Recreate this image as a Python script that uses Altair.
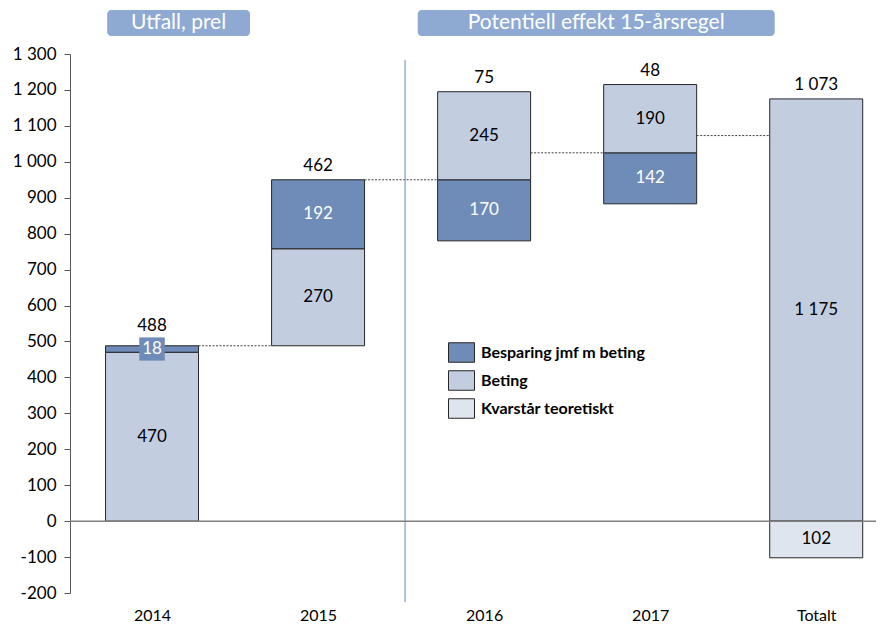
import altair as alt
import pandas as pd

# ---------------- data ----------------
categories = ["2014", "2015", "2016", "2017", "Totalt"]
series_names = ["Besparing jmf m beting", "Beting", "Kvarstår teoretiskt"]
series_colors = ["#6f8cb8", "#c3cde0", "#dfe5ef"]

seg_category = ["2014", "2014", "2015", "2015", "2016", "2016", "2017", "2017", "Totalt", "Totalt"]
seg_series = ["Beting", "Besparing jmf m beting", "Beting", "Besparing jmf m beting",
              "Besparing jmf m beting", "Beting", "Besparing jmf m beting", "Beting",
              "Beting", "Kvarstår teoretiskt"]
seg_start = [0, 470, 488, 758, 780, 950, 883, 1025, 0, -102]
seg_end = [470, 488, 758, 950, 950, 1195, 1025, 1215, 1175, 0]
seg_value = [470, 18, 270, 192, 170, 245, 142, 190, 1175, 102]

net_value = [488, 462, 75, 48, 1073]

connector_from = ["2014", "2015", "2016", "2017"]
connector_level = [488, 950, 1025, 1073]

header_text = ["Utfall, prel", "Potentiell effekt 15-årsregel"]

# ---------------- layout ----------------
W, H = 806, 539
YMIN, YMAX = -200, 1300
PX = H / (YMAX - YMIN)
HALF = 0.28
header_from = [-0.27, 1.60]
header_to = [0.59, 3.75]
divider_at = 1.524
FONT = "Lato"
FS = 17

seg = pd.DataFrame({"cat": seg_category, "series": seg_series,
                    "start": seg_start, "end": seg_end, "v": seg_value})
seg["i"] = [categories.index(c) for c in seg["cat"]]

tops = seg.groupby("i")["end"].max().reindex(range(len(categories))).tolist()
net = pd.DataFrame({"i": list(range(len(categories))), "v": net_value, "top": tops})

conn = pd.DataFrame({"i": [categories.index(c) for c in connector_from], "level": connector_level})

hdr = pd.DataFrame({"t": header_text, "a": header_from, "b": header_to})
hdr["y0"] = YMAX + 18 / PX
hdr["y1"] = YMAX + 44 / PX
hdr["ym"] = (hdr["y0"] + hdr["y1"]) / 2
hdr["xm"] = (hdr["a"] + hdr["b"]) / 2

FMT = "(datum.v < 0 ? '-' : '') + replace(format(abs(datum.v), ','), ',', ' ')"
YFMT = "(datum.value < 0 ? '-' : '') + replace(format(abs(datum.value), ','), ',', ' ')"
label_expr = "[" + ",".join(f"'{c}'" for c in categories) + "][datum.value]"

xscale = alt.Scale(domain=[-0.494, 4.36], nice=False, zero=False)
yscale = alt.Scale(domain=[YMIN, YMAX], nice=False, zero=False)

xaxis = alt.Axis(values=list(range(len(categories))), labelExpr=label_expr, domain=False,
                 ticks=False, grid=False, title=None, labelPadding=14, labelFontSize=FS - 1,
                 labelColor="black", labelFont=FONT, labelOverlap=False)
yaxis = alt.Axis(values=list(range(YMIN, YMAX + 1, 100)), labelExpr=YFMT, grid=False, title=None,
                 tickSize=6, labelPadding=8, domainColor="#595959", tickColor="#595959",
                 labelFontSize=FS, labelColor="black", labelFont=FONT, labelOverlap=False,
                 tickCount=16)


def X(field):
    return alt.X(field, scale=xscale, axis=xaxis)


def Y(field):
    return alt.Y(field, scale=yscale, axis=yaxis)


base = alt.Chart(seg).transform_calculate(
    x0=f"datum.i - {HALF}", x1=f"datum.i + {HALF}",
    mid="(datum.start + datum.end) / 2", lab=FMT)

bars = base.mark_rect(stroke="#262626", strokeWidth=1).encode(
    x=X("x0:Q"),
    x2="x1:Q",
    y=Y("start:Q"),
    y2="end:Q",
    color=alt.Color("series:N", scale=alt.Scale(domain=series_names, range=series_colors),
                    legend=alt.Legend(title=None, orient="none", legendX=378, legendY=285,
                                      symbolType="M-1,-0.75H1V0.75H-1Z", symbolSize=676,
                                      symbolStrokeColor="#262626", symbolStrokeWidth=1,
                                      symbolOpacity=1, labelFontSize=FS - 1, labelFontWeight="bold",
                                      labelColor="black", labelFont=FONT, labelOffset=6,
                                      labelLimit=0, rowPadding=2)),
)

seg_labels = base.transform_filter("datum.v >= 30").mark_text(
    fontSize=FS, font=FONT, baseline="middle").encode(
    x=X("i:Q"),
    y=Y("mid:Q"),
    text="lab:N",
    color=alt.condition(alt.datum.series == series_names[0], alt.value("white"), alt.value("black")),
)

small_box = base.transform_filter("datum.v < 30").mark_point(
    shape="M-1.1,-1H1.1V1H-1.1Z", filled=True, size=540, opacity=1,
    color=series_colors[0]).encode(x=X("i:Q"), y=Y("mid:Q"))

small_label = base.transform_filter("datum.v < 30").mark_text(
    fontSize=FS, font=FONT, baseline="middle", color="white").encode(
    x=X("i:Q"), y=Y("mid:Q"), text="lab:N")

net_base = alt.Chart(net).transform_calculate(lab=FMT)
net_labels = net_base.transform_filter("datum.i > 0").mark_text(
    fontSize=FS, font=FONT, baseline="middle", dy=-14, color="black").encode(
    x=X("i:Q"), y=Y("top:Q"), text="lab:N")
net_label0 = net_base.transform_filter("datum.i == 0").mark_text(
    fontSize=FS, font=FONT, baseline="middle", dy=-20, color="black").encode(
    x=X("i:Q"), y=Y("top:Q"), text="lab:N")

connectors = alt.Chart(conn).transform_calculate(
    x0=f"datum.i + {HALF}", x1=f"datum.i + 1 - {HALF}").mark_rule(
    color="#404040", strokeDash=[2, 1.5], strokeWidth=1).encode(
    x=X("x0:Q"), x2="x1:Q", y=Y("level:Q"))

divider = alt.Chart(pd.DataFrame({"x": [divider_at], "y0": [YMIN - 9 / PX], "y1": [YMAX - 6 / PX]})).mark_rule(
    color="#7a9ccc", strokeWidth=1.2).encode(
    x=X("x:Q"), y=Y("y0:Q"), y2="y1:Q")

zero_line = alt.Chart(pd.DataFrame({"y": [0]})).mark_rule(color="#7f7f7f", strokeWidth=1.5).encode(
    y=Y("y:Q"))

hdr_boxes = alt.Chart(hdr).mark_rect(color="#8eaad3", cornerRadius=4).encode(
    x=X("a:Q"), x2="b:Q", y=Y("y0:Q"), y2="y1:Q")
hdr_text = alt.Chart(hdr).mark_text(color="white", fontSize=21, font=FONT, baseline="middle").encode(
    x=X("xm:Q"), y=Y("ym:Q"), text="t:N")

chart = alt.layer(
    bars, connectors, divider, zero_line, seg_labels, small_box, small_label,
    net_labels, net_label0, hdr_boxes, hdr_text
).properties(
    width=W, height=H, padding={"left": 4, "top": 2, "right": 0, "bottom": 0}
).configure(font=FONT).configure_view(stroke=None)

chart.save("out.html", embed_options={"renderer": "svg", "actions": False})
